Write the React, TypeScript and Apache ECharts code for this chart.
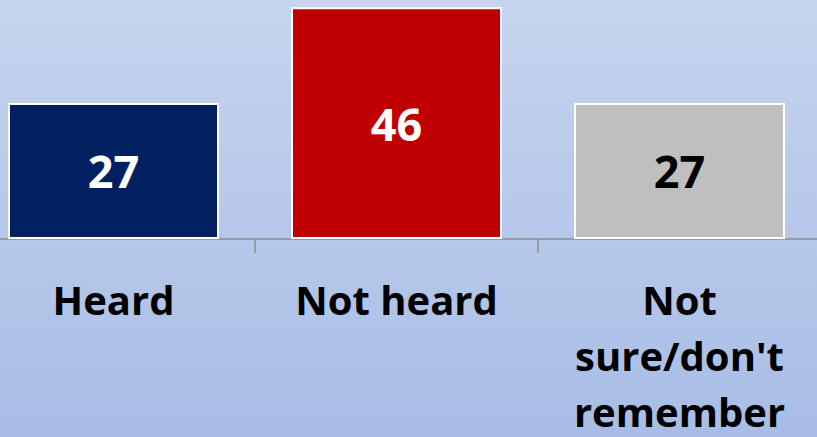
import React, { useEffect, useRef } from "react";
import * as echarts from "echarts";

const categories = ["Heard", "Not heard", "Not\nsure/don't\nremember"];
const values = [27, 46, 27];
const barColors = ["#002060", "#C00000", "#BFBFBF"];
const labelColors = ["#FFFFFF", "#FFFFFF", "#000000"];

export default function App() {
  const ref = useRef<HTMLDivElement>(null);
  useEffect(() => {
    if (!ref.current) return;
    const chart = echarts.init(ref.current, null, { renderer: "svg" });
    chart.setOption({
      animation: false,
      grid: {
        left: -28,
        right: -4,
        top: 0,
        bottom: 198,
        containLabel: false,
        outerBoundsMode: "none",
      },
      xAxis: {
        type: "category",
        data: categories,
        axisLine: { lineStyle: { color: "#8C8C8C", width: 1.5 } },
        axisTick: { show: true, length: 14, lineStyle: { color: "#8C8C8C", width: 1.5 } },
        axisLabel: {
          interval: 0,
          margin: 32,
          color: "#000000",
          fontFamily: "Open Sans",
          fontWeight: "bold",
          fontSize: 40,
          lineHeight: 56,
          verticalAlign: "top",
          hideOverlap: false,
        },
      },
      yAxis: { type: "value", min: 0, max: 47.42, show: false, splitLine: { show: false } },
      series: [
        {
          type: "bar",
          barWidth: 211,
          data: values.map((v, i) => ({
            value: v,
            itemStyle: { color: barColors[i], borderColor: "#FFFFFF", borderWidth: 2 },
            label: { color: labelColors[i] },
          })),
          label: {
            show: true,
            position: "inside",
            fontFamily: "Open Sans",
            fontWeight: "bold",
            fontSize: 45,
          },
        },
      ],
    });
    return () => chart.dispose();
  }, []);
  return (
    <div
      ref={ref}
      style={{
        position: "fixed",
        left: 0,
        top: 0,
        width: 817,
        height: 437,
        background: "linear-gradient(to bottom, #C6D4EE 0%, #A8BDE6 100%)",
      }}
    />
  );
}
